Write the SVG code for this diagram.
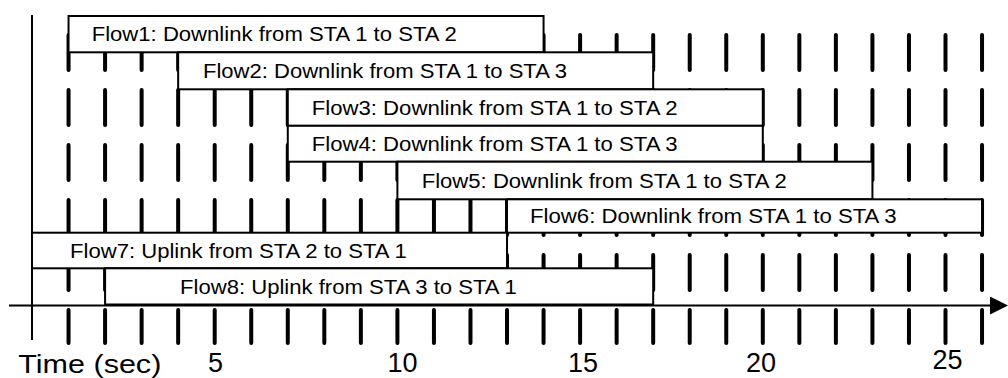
<svg xmlns="http://www.w3.org/2000/svg" width="1008" height="378" viewBox="0 0 1008 378">
  <style>
    .tick { stroke: #000; stroke-width: 4; stroke-linecap: round; stroke-dasharray: 35 20; fill: none; }
    .box { fill: #fff; stroke: #000; stroke-width: 2; }
    .lbl { font-family: "Liberation Sans", Arial, sans-serif; font-size: 20px; fill: #000; }
    .num { font-family: "Liberation Sans", Arial, sans-serif; font-size: 27px; fill: #000; text-anchor: middle; }
    .axis { stroke: #000; stroke-width: 2; fill: none; }
  </style>
  <defs>
    <marker id="arrow" markerUnits="userSpaceOnUse" markerWidth="18" markerHeight="18" refX="0" refY="9" orient="auto">
      <polygon points="0,0 18,9 0,18" fill="#000"/>
    </marker>
  </defs>
  <rect width="1008" height="378" fill="#fff"/>

  <g id="time-slots">
    <line class="tick" x1="68.54" y1="35" x2="68.54" y2="343"/>
    <line class="tick" x1="105.08" y1="35" x2="105.08" y2="343"/>
    <line class="tick" x1="141.62" y1="35" x2="141.62" y2="343"/>
    <line class="tick" x1="178.16" y1="35" x2="178.16" y2="343"/>
    <line class="tick" x1="214.7" y1="35" x2="214.7" y2="343"/>
    <line class="tick" x1="251.24" y1="35" x2="251.24" y2="343"/>
    <line class="tick" x1="287.78" y1="35" x2="287.78" y2="343"/>
    <line class="tick" x1="324.32" y1="35" x2="324.32" y2="343"/>
    <line class="tick" x1="360.86" y1="35" x2="360.86" y2="343"/>
    <line class="tick" x1="397.4" y1="35" x2="397.4" y2="343"/>
    <line class="tick" x1="433.94" y1="35" x2="433.94" y2="343"/>
    <line class="tick" x1="470.48" y1="35" x2="470.48" y2="343"/>
    <line class="tick" x1="507.02" y1="35" x2="507.02" y2="343"/>
    <line class="tick" x1="543.56" y1="35" x2="543.56" y2="343"/>
    <line class="tick" x1="580.1" y1="35" x2="580.1" y2="343"/>
    <line class="tick" x1="616.64" y1="35" x2="616.64" y2="343"/>
    <line class="tick" x1="653.18" y1="35" x2="653.18" y2="343"/>
    <line class="tick" x1="689.72" y1="35" x2="689.72" y2="343"/>
    <line class="tick" x1="726.26" y1="35" x2="726.26" y2="343"/>
    <line class="tick" x1="762.8" y1="35" x2="762.8" y2="343"/>
    <line class="tick" x1="799.34" y1="35" x2="799.34" y2="343"/>
    <line class="tick" x1="835.88" y1="35" x2="835.88" y2="343"/>
    <line class="tick" x1="872.42" y1="35" x2="872.42" y2="343"/>
    <line class="tick" x1="908.96" y1="35" x2="908.96" y2="343"/>
    <line class="tick" x1="945.5" y1="35" x2="945.5" y2="343"/>
    <line class="tick" x1="982.04" y1="35" x2="982.04" y2="343"/>
  </g>

  <g id="flow1">
    <rect class="box" x="68.54" y="16" width="475.02" height="36.3"/>
    <text class="lbl" x="91.7" y="41.3" textLength="365" lengthAdjust="spacingAndGlyphs">Flow1: Downlink from STA 1 to STA 2</text>
  </g>
  <g id="flow2">
    <rect class="box" x="178.16" y="52.3" width="475.02" height="37"/>
    <text class="lbl" x="203" y="78" textLength="364" lengthAdjust="spacingAndGlyphs">Flow2: Downlink from STA 1 to STA 3</text>
  </g>
  <g id="flow3">
    <rect class="box" x="287.78" y="89.3" width="475.02" height="36.5"/>
    <text class="lbl" x="311.7" y="114.7" textLength="366" lengthAdjust="spacingAndGlyphs">Flow3: Downlink from STA 1 to STA 2</text>
  </g>
  <g id="flow4">
    <rect class="box" x="287.78" y="125.8" width="475.02" height="35.9"/>
    <text class="lbl" x="311.7" y="151" textLength="366" lengthAdjust="spacingAndGlyphs">Flow4: Downlink from STA 1 to STA 3</text>
  </g>
  <g id="flow5">
    <rect class="box" x="397.4" y="161.7" width="475.02" height="37.6"/>
    <text class="lbl" x="421.7" y="187.7" textLength="365" lengthAdjust="spacingAndGlyphs">Flow5: Downlink from STA 1 to STA 2</text>
  </g>
  <g id="flow6">
    <rect class="box" x="507.02" y="199.3" width="475.02" height="33.4"/>
    <text class="lbl" x="530" y="223.2" textLength="366.7" lengthAdjust="spacingAndGlyphs">Flow6: Downlink from STA 1 to STA 3</text>
  </g>
  <g id="flow7">
    <rect class="box" x="32" y="232.7" width="475.02" height="35.6"/>
    <text class="lbl" x="70" y="257.7" textLength="336.7" lengthAdjust="spacingAndGlyphs">Flow7: Uplink from STA 2 to STA 1</text>
  </g>
  <g id="flow8">
    <rect class="box" x="105.08" y="268.3" width="548.1" height="36.2"/>
    <text class="lbl" x="180" y="293.6" textLength="336.7" lengthAdjust="spacingAndGlyphs">Flow8: Uplink from STA 3 to STA 1</text>
  </g>

  <g id="connectors">
    <line class="axis" x1="32" y1="15" x2="32" y2="340"/>
    <line class="axis" x1="9" y1="305.5" x2="990" y2="305.5" marker-end="url(#arrow)"/>
  </g>

  <g id="axis-labels">
    <text x="18.3" y="373.3" font-family="Liberation Sans, Arial, sans-serif" font-size="26.5" textLength="143" lengthAdjust="spacingAndGlyphs">Time (sec)</text>
    <text class="num" x="215.5" y="372">5</text>
    <text class="num" x="402.5" y="372">10</text>
    <text class="num" x="583" y="372">15</text>
    <text class="num" x="761" y="372">20</text>
    <text class="num" x="947.5" y="369">25</text>
  </g>
</svg>
